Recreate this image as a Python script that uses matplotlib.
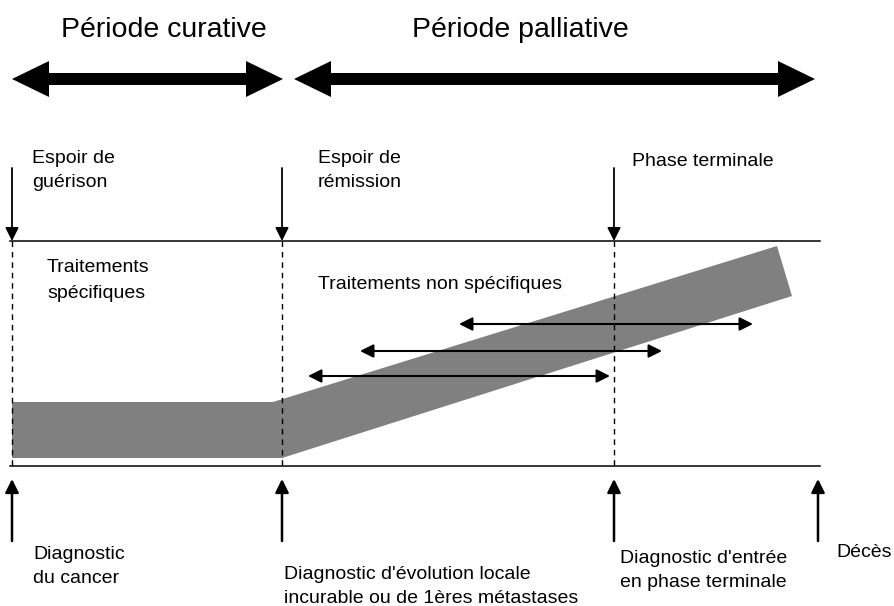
import numpy as np
import matplotlib.pyplot as plt
from matplotlib.patches import Polygon

# milestones (pixel positions along the time axis)
milestone_x = [12, 282, 614, 818]
top_line_y = 241
bottom_line_y = 466
line_x = [10, 820]

# periods (big double arrows)
periods = ["Période curative", "Période palliative"]
period_title_x = [164, 520]
period_x = [(12, 283), (294, 815)]
period_y = 79

# labels
top_labels = ["Espoir de\nguérison", "Espoir de\nrémission", "Phase terminale"]
top_label_pos = [(32, 163), (318, 163), (632, 166)]
bottom_labels = ["Diagnostic\ndu cancer",
                 "Diagnostic d'évolution locale\nincurable ou de 1ères métastases",
                 "Diagnostic d'entrée\nen phase terminale",
                 "Décès"]
bottom_label_pos = [(33, 559), (284, 579), (620, 563), (836, 557)]

# treatment overlap arrows
treat_y = [376, 351, 324]
treat_x = [(308, 610), (360, 662), (459, 753)]

# grey band outline
band_x = [12, 273, 777, 792, 282, 12]
band_y = [402, 402, 246, 296, 458, 458]


def double_arrow(ax, x0, x1, y, head_len=37, head_w=18, shaft_w=6):
    xs = [x0, x0 + head_len, x0 + head_len, x1 - head_len, x1 - head_len, x1,
          x1 - head_len, x1 - head_len, x0 + head_len, x0 + head_len]
    ys = [y, y - head_w, y - shaft_w, y - shaft_w, y - head_w, y,
          y + head_w, y + shaft_w, y + shaft_w, y + head_w]
    ax.add_patch(Polygon(np.column_stack([xs, ys]), closed=True, color="black", lw=0))


fig = plt.figure(figsize=(8.94, 6.06), dpi=100)
ax = fig.add_axes([0, 0, 1, 1])
ax.set_xlim(0, 894)
ax.set_ylim(606, 0)
ax.axis("off")

font = ["Liberation Sans", "DejaVu Sans"]

for name, tx, (x0, x1) in zip(periods, period_title_x, period_x):
    ax.text(tx, 30, name, ha="center", va="center", fontsize=20.5, family=font)
    double_arrow(ax, x0, x1, period_y)

ax.add_patch(Polygon(np.column_stack([band_x, band_y]), closed=True,
                     color="#808080", lw=0))

ax.plot(line_x, [top_line_y] * 2, color="black", lw=1.1)
ax.plot(line_x, [bottom_line_y] * 2, color="black", lw=1.1)

for x in milestone_x[:3]:
    ax.plot([x, x], [top_line_y, bottom_line_y], color="black", lw=1.0,
            ls=(0, (4, 3.5)))
    ax.annotate("", xy=(x, top_line_y), xytext=(x, 168),
                arrowprops=dict(arrowstyle="-|>", lw=1.3, color="black",
                                mutation_scale=20, shrinkA=0, shrinkB=0))

for x in milestone_x:
    ax.annotate("", xy=(x, 479), xytext=(x, 541),
                arrowprops=dict(arrowstyle="-|>", lw=1.8, color="black",
                                mutation_scale=20, shrinkA=0, shrinkB=0))

for y, (x0, x1) in zip(treat_y, treat_x):
    ax.annotate("", xy=(x1, y), xytext=(x0, y),
                arrowprops=dict(arrowstyle="<|-|>", lw=1.5, color="black",
                                mutation_scale=20, shrinkA=0, shrinkB=0))

for txt, (x, y) in zip(top_labels, top_label_pos):
    for i, ln in enumerate(txt.split("\n")):
        ax.text(x, y + 24 * i, ln, ha="left", va="baseline", fontsize=14, family=font)

for txt, (x, y) in zip(bottom_labels, bottom_label_pos):
    for i, ln in enumerate(txt.split("\n")):
        ax.text(x, y + 24 * i, ln, ha="left", va="baseline", fontsize=14, family=font)

ax.text(47, 272, "Traitements", ha="left", va="baseline", fontsize=14, family=font)
ax.text(47, 298, "spécifiques", ha="left", va="baseline", fontsize=14, family=font)
ax.text(318, 289, "Traitements non spécifiques", ha="left", va="baseline",
        fontsize=14, family=font)

fig.savefig("out.png", dpi=100)
